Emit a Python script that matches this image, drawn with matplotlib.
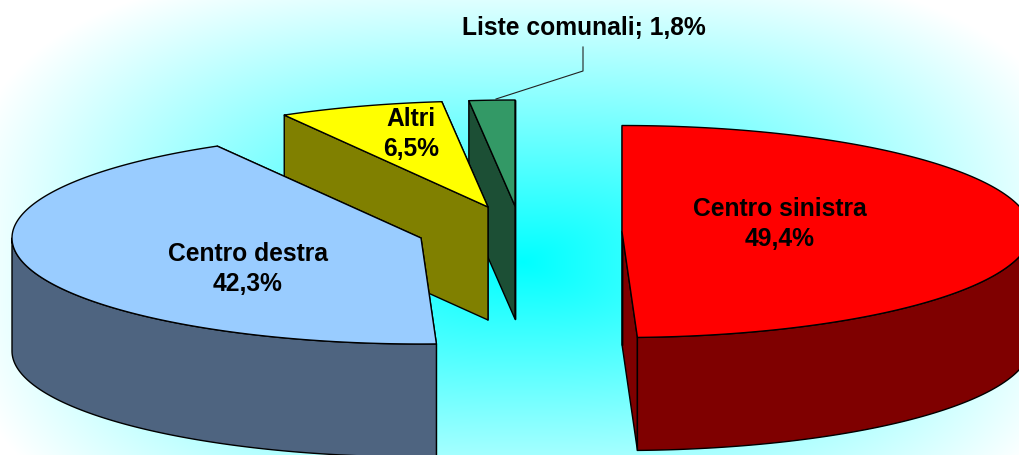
import numpy as np
import matplotlib
matplotlib.use('Agg')
import matplotlib.pyplot as plt
from matplotlib.patches import Polygon

# dati
categories = ['Centro sinistra', 'Centro destra', 'Altri', 'Liste comunali']
values = [49.4, 42.3, 6.5, 1.8]
labels = ['Centro sinistra\n49,4%', 'Centro destra\n42,3%', 'Altri\n6,5%', 'Liste comunali; 1,8%']

# stile
top_colors = ['#FF0000', '#99CCFF', '#FFFF00', '#339966']
side_colors = ['#7F0000', '#4E6480', '#808000', '#1C4F35']
centers = [(622, 231.5), (421, 238), (488, 207), (515, 206)]
label_pos = [(780, 224), (248, 269), (411, 134), (584, 28)]
RX, RY, DEPTH = 409, 106, 113
LW = 1.0

plt.rcParams['font.family'] = ['Liberation Sans', 'DejaVu Sans']
fig = plt.figure(figsize=(10.2, 4.55), dpi=100)
ax = fig.add_axes([0, 0, 1, 1])
ax.set_xlim(0, 1020)
ax.set_ylim(455, 0)
ax.axis('off')

# sfondo sfumato
xx, yy = np.meshgrid(np.arange(1020) + 0.5, np.arange(455) + 0.5)
r = (np.abs((xx - 523) / 560) ** 3 + np.abs((yy - 262) / 300) ** 3) ** (1 / 3)
w = np.clip(r, 0, 1)
bg = np.dstack([w, np.ones_like(w), np.ones_like(w)])
ax.imshow(bg, extent=(0, 1020, 455, 0), aspect='auto', zorder=0)


def pt(c, a, dz=0):
    t = np.radians(a)
    return c[0] + RX * np.sin(t), c[1] - RY * np.cos(t) + dz


def arc(c, a0, a1, dz=0):
    t = np.linspace(a0, a1, 200)
    x, y = pt(c, t, dz)
    return np.column_stack([x, y])


def face(c, a, color, z):
    p = pt(c, a)
    q = pt(c, a, DEPTH)
    pts = [c, p, q, (c[0], c[1] + DEPTH)]
    ax.add_patch(Polygon(pts, closed=True, fc=color, ec='black', lw=LW, zorder=z, joinstyle='round'))


# fette in ordine dal fondo
edges = np.cumsum([0] + values) / sum(values) * 360
for i in [3, 2, 1, 0]:
    c = centers[i]
    a0, a1 = edges[i], edges[i + 1]
    z = 10 - i
    face(c, a1, side_colors[i], z)
    face(c, a0, side_colors[i], z)
    lo, hi = max(a0, 90), min(a1, 270)
    if lo < hi:
        pts = np.vstack([arc(c, lo, hi), arc(c, hi, lo, DEPTH)])
        ax.add_patch(Polygon(pts, closed=True, fc=side_colors[i], ec='black', lw=LW, zorder=z, joinstyle='round'))
    pts = np.vstack([[c], arc(c, a0, a1)])
    ax.add_patch(Polygon(pts, closed=True, fc=top_colors[i], ec='black', lw=LW, zorder=z, joinstyle='round'))

# linea guida
ax.plot([583, 583, 496], [47, 71, 99], color='#222222', lw=0.8, zorder=20)

for lab, (x, y) in zip(labels, label_pos):
    ax.text(x, y, lab, ha='center', va='center', fontsize=17.7, fontweight='bold',
            linespacing=1.28, color='black', zorder=30)

fig.savefig('out.png', dpi=100)
